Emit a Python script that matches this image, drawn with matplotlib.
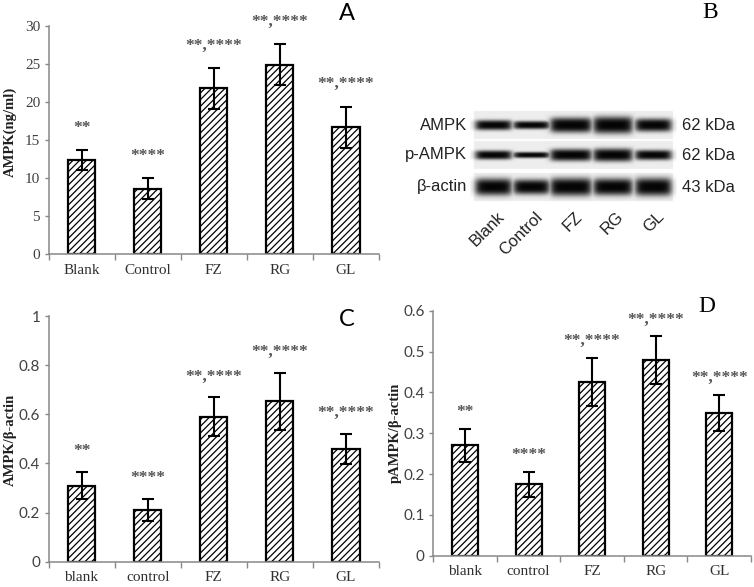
import numpy as np
import matplotlib
matplotlib.use('Agg')
import matplotlib.pyplot as plt

# ---------------------------------------------------------------
# data
# ---------------------------------------------------------------
groups_a = ['Blank', 'Control', 'FZ', 'RG', 'GL']
groups_cd = ['blank', 'control', 'FZ', 'RG', 'GL']
stars = ['**', '****', '**,****', '**,****', '**,****']

ampk_mean = [12.4, 8.6, 21.8, 24.9, 16.7]          # panel A, ng/ml
ampk_err = [1.3, 1.4, 2.7, 2.7, 2.7]
ampk_ratio_mean = [0.31, 0.21, 0.59, 0.653, 0.459]  # panel C
ampk_ratio_err = [0.056, 0.046, 0.079, 0.117, 0.06]
pampk_ratio_mean = [0.27, 0.175, 0.426, 0.479, 0.35]  # panel D
pampk_ratio_err = [0.041, 0.031, 0.059, 0.058, 0.044]

# panel B: western blot, band thickness (px) per lane
blot_lanes = ['Blank', 'Control', 'FZ', 'RG', 'GL']
blot_rows = ['AMPK', 'p-AMPK', 'β-actin']
blot_kda = ['62 kDa', '62 kDa', '43 kDa']
band_ampk = [10, 8, 15, 17, 13]
band_pampk = [9, 6, 12, 13, 10]
band_actin = [17, 15, 18, 17, 18]

W, H = 754, 587
plt.rcParams['hatch.linewidth'] = 0.9
SERIF = 'Liberation Serif'
SANS = 'Lato'

fig = plt.figure(figsize=(W / 100, H / 100), dpi=100)

# overlay axes in pixel units for the blot and panel letters
ov = fig.add_axes([0, 0, 1, 1], zorder=0)
ov.set_xlim(0, W)
ov.set_ylim(H, 0)
ov.axis('off')


def px_axes(x0, y0, x1, y1):
    # axes from pixel box (top-left origin)
    return fig.add_axes([x0 / W, 1 - y1 / H, (x1 - x0) / W, (y1 - y0) / H], zorder=2)


def bar_panel(ax, labels, means, errs, ymax, ystep, ylabel, tickfont, star_off, lab_xy):
    x = np.arange(len(labels))
    ax.bar(x, means, width=0.41, color='white', edgecolor='black',
           hatch='/////', linewidth=1.6, zorder=2)
    ax.errorbar(x, means, yerr=errs, fmt='none', ecolor='black',
                elinewidth=1.5, capsize=4, capthick=1.5, zorder=3)
    for xi, m, e, s in zip(x, means, errs, stars):
        ax.annotate(s, (xi, m + e), xytext=(0, star_off), textcoords='offset points',
                    ha='center', va='center', fontsize=12.5, color='#555555',
                    family=SERIF, fontweight='bold', annotation_clip=False)
    ax.set_xlim(-0.5, len(labels) - 0.5)
    ax.set_ylim(0, ymax)
    ax.set_yticks(np.arange(0, ymax + ystep / 2, ystep))
    ax.set_yticklabels(['%g' % v for v in np.arange(0, ymax + ystep / 2, ystep)],
                       family=tickfont, fontsize=11, color='#404040')
    ax.set_xticks(x)
    ax.set_xticklabels(labels, family=SERIF, fontsize=11, color='#303030')
    ax.set_xticks(np.arange(-0.5, len(labels)), minor=True)
    ax.tick_params(axis='x', which='major', length=0, pad=7)
    ax.tick_params(axis='x', which='minor', length=4, color='#888888', width=1)
    ax.tick_params(axis='y', length=3, color='#888888', width=1, pad=3)
    for s in ['top', 'right']:
        ax.spines[s].set_visible(False)
    for s in ['left', 'bottom']:
        ax.spines[s].set_color('#888888')
        ax.spines[s].set_linewidth(1.1)
    ax.set_ylabel(ylabel, family=SERIF, fontweight='bold', fontsize=10.5, color='#202020')
    ax.yaxis.set_label_coords(*lab_xy)
    ax.patch.set_alpha(0)


# ---------------- panel A ----------------
axA = px_axes(48.5, 26, 379, 254)
bar_panel(axA, groups_a, ampk_mean, ampk_err, 30, 5, 'AMPK(ng/ml)', SERIF, 16, (-0.095, 0.535))

# ---------------- panel C ----------------
axC = px_axes(48.5, 316, 379, 561.7)
bar_panel(axC, groups_cd, ampk_ratio_mean, ampk_ratio_err, 1.0, 0.2, 'AMPK/β-actin', SANS, 15,
          (-0.095, 0.495))

# ---------------- panel D ----------------
axD = px_axes(433.2, 310.7, 751, 555.7)
bar_panel(axD, groups_cd, pampk_ratio_mean, pampk_ratio_err, 0.6, 0.1, 'pAMPK/β-actin', SANS, 12,
          (-0.098, 0.50))

# ---------------- panel B (blot) ----------------
lane_edges = [(475, 512), (513, 550), (550, 592), (593, 633), (635, 672)]
row_y = [125, 155, 187]
strip_half = 14
bands = [band_ampk, band_pampk, band_actin]

bx0, bx1, by0, by1 = 470, 677, 105, 207
sc = 3
xs = np.linspace(bx0, bx1, (bx1 - bx0) * sc)
ys = np.linspace(by0, by1, (by1 - by0) * sc)
XX, YY = np.meshgrid(xs, ys)
img = np.ones_like(XX)


def sig(v):
    return 1 / (1 + np.exp(-v))


for yc, thick in zip(row_y, bands):
    in_strip = (np.abs(YY - yc) < strip_half) & (XX > 474) & (XX < 673)
    img[in_strip] = 0.93
    dark = np.zeros_like(XX)
    for (xl, xr), t in zip(lane_edges, thick):
        px = sig((XX - xl - 1) / 2.0) * sig((xr - 1 - XX) / 2.0)
        py = np.exp(-np.abs((YY - yc) / (t / 2.0)) ** 3)
        dark = np.maximum(dark, px * py)
    img = img * (1 - 0.98 * dark)

ov.imshow(img, cmap='gray', vmin=0, vmax=1, extent=(bx0, bx1, by1, by0),
          interpolation='bilinear', aspect='auto')

for name, kda, yc in zip(blot_rows, blot_kda, row_y):
    ov.text(467, yc, name, ha='right', va='center', family='Liberation Sans',
            fontsize=12, color='#222222')
    ov.text(682, yc, kda, ha='left', va='center', family='Liberation Sans',
            fontsize=12, color='#222222')

for name, (xl, xr) in zip(blot_lanes, lane_edges):
    ov.text((xl + xr) / 2 + 3, 209, name, rotation=45, rotation_mode='anchor',
            ha='right', va='top', family='Liberation Sans', fontsize=12, color='#222222')

# panel letters
ov.text(347, 13, 'A', ha='center', va='center', family=SANS, fontsize=17)
ov.text(710, 13, 'B', ha='center', va='center', family=SERIF, fontsize=17)
ov.text(347, 320, 'C', ha='center', va='center', family=SANS, fontsize=17)
ov.text(707, 307, 'D', ha='center', va='center', family=SERIF, fontsize=17)

fig.savefig('out.png', dpi=100)
